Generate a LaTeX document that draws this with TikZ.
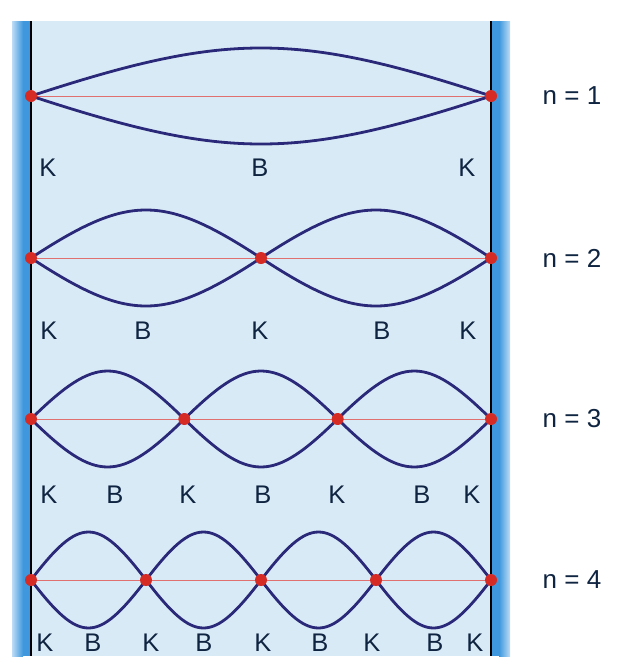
\documentclass[tikz,border=0pt]{standalone}
\usepackage{fontspec}
\setmainfont{Liberation Sans}
\usetikzlibrary{calc}
\definecolor{panel}{HTML}{D9EAF7}
\definecolor{wallD}{HTML}{3F98DD}
\definecolor{wallL}{HTML}{BCDDF5}
\definecolor{wave}{HTML}{2A2878}
\definecolor{dotred}{HTML}{D52B24}
\definecolor{strline}{HTML}{E07070}
\definecolor{txt}{HTML}{0F2440}
\tikzset{
  wavecurve/.style={draw=wave, line width=2.8pt},
  knot/.style={circle, fill=dotred, inner sep=0pt, minimum size=12pt},
  lbl/.style={text=txt, font=\fontsize{25.5}{30}\selectfont, inner sep=0pt, anchor=center},
  nlbl/.style={text=txt, font=\fontsize{26}{30}\selectfont, inner sep=0pt, anchor=center},
  string/.style={draw=strline, line width=0.9pt},
  wallline/.style={draw=black, line width=1.6pt}
}
\begin{document}
\begin{tikzpicture}[x=1pt,y=-1pt]
\useasboundingbox (0,0) rectangle (620,670);
% panel
\fill[panel] (31,21) rectangle (491,656);
% walls
\shade[left color=wallL, right color=wallD] (12,21) rectangle (23,656);
\fill[wallD] (22.5,21) rectangle (31,656);
\shade[left color=wallD, right color=wallL] (499,21) rectangle (510,656);
\fill[wallD] (491,21) rectangle (499.5,656);
\draw[wallline] (31,21) -- (31,656);
\draw[wallline] (491,21) -- (491,656);
% rows
\foreach \n/\y in {1/96,2/258,3/419,4/580}{
  \pgfmathsetmacro{\dx}{460/\n}
  \foreach \k in {0,...,\n}{
    \coordinate (c\n-\k) at ({31+\k*\dx},\y);
  }
  \draw[string] (c\n-0) -- (c\n-\n);
  \foreach \k [evaluate=\k as \kk using int(\k-1)] in {1,...,\n}{
    \draw[wavecurve] (c\n-\kk) .. controls ($(c\n-\kk)!0.4244!(c\n-\k)+(0,-64)$) and ($(c\n-\kk)!0.5756!(c\n-\k)+(0,-64)$) .. (c\n-\k);
    \draw[wavecurve] (c\n-\kk) .. controls ($(c\n-\kk)!0.4244!(c\n-\k)+(0,64)$) and ($(c\n-\kk)!0.5756!(c\n-\k)+(0,64)$) .. (c\n-\k);
  }
  \foreach \k in {0,...,\n}{
    \node[knot] (d\n-\k) at (c\n-\k) {};
  }
  \node[nlbl] (n\n) at (572,\y) {n = \n};
}
% labels row 1
\node[lbl] (l1a) at (48,168) {K};
\node[lbl] (l1b) at (260,168) {B};
\node[lbl] (l1c) at (467,168) {K};
% row 2
\node[lbl] (l2a) at (49,331) {K};
\node[lbl] (l2b) at (143,331) {B};
\node[lbl] (l2c) at (260,331) {K};
\node[lbl] (l2d) at (382,331) {B};
\node[lbl] (l2e) at (468,331) {K};
% row 3
\node[lbl] (l3a) at (49,495) {K};
\node[lbl] (l3b) at (115,495) {B};
\node[lbl] (l3c) at (188,495) {K};
\node[lbl] (l3d) at (263,495) {B};
\node[lbl] (l3e) at (337,495) {K};
\node[lbl] (l3f) at (422,495) {B};
\node[lbl] (l3g) at (472,495) {K};
% row 4
\node[lbl] (l4a) at (45,643) {K};
\node[lbl] (l4b) at (93,643) {B};
\node[lbl] (l4c) at (151,643) {K};
\node[lbl] (l4d) at (204,643) {B};
\node[lbl] (l4e) at (263,643) {K};
\node[lbl] (l4f) at (320,643) {B};
\node[lbl] (l4g) at (372,643) {K};
\node[lbl] (l4h) at (435,643) {B};
\node[lbl] (l4i) at (475,643) {K};
\end{tikzpicture}
\end{document}
